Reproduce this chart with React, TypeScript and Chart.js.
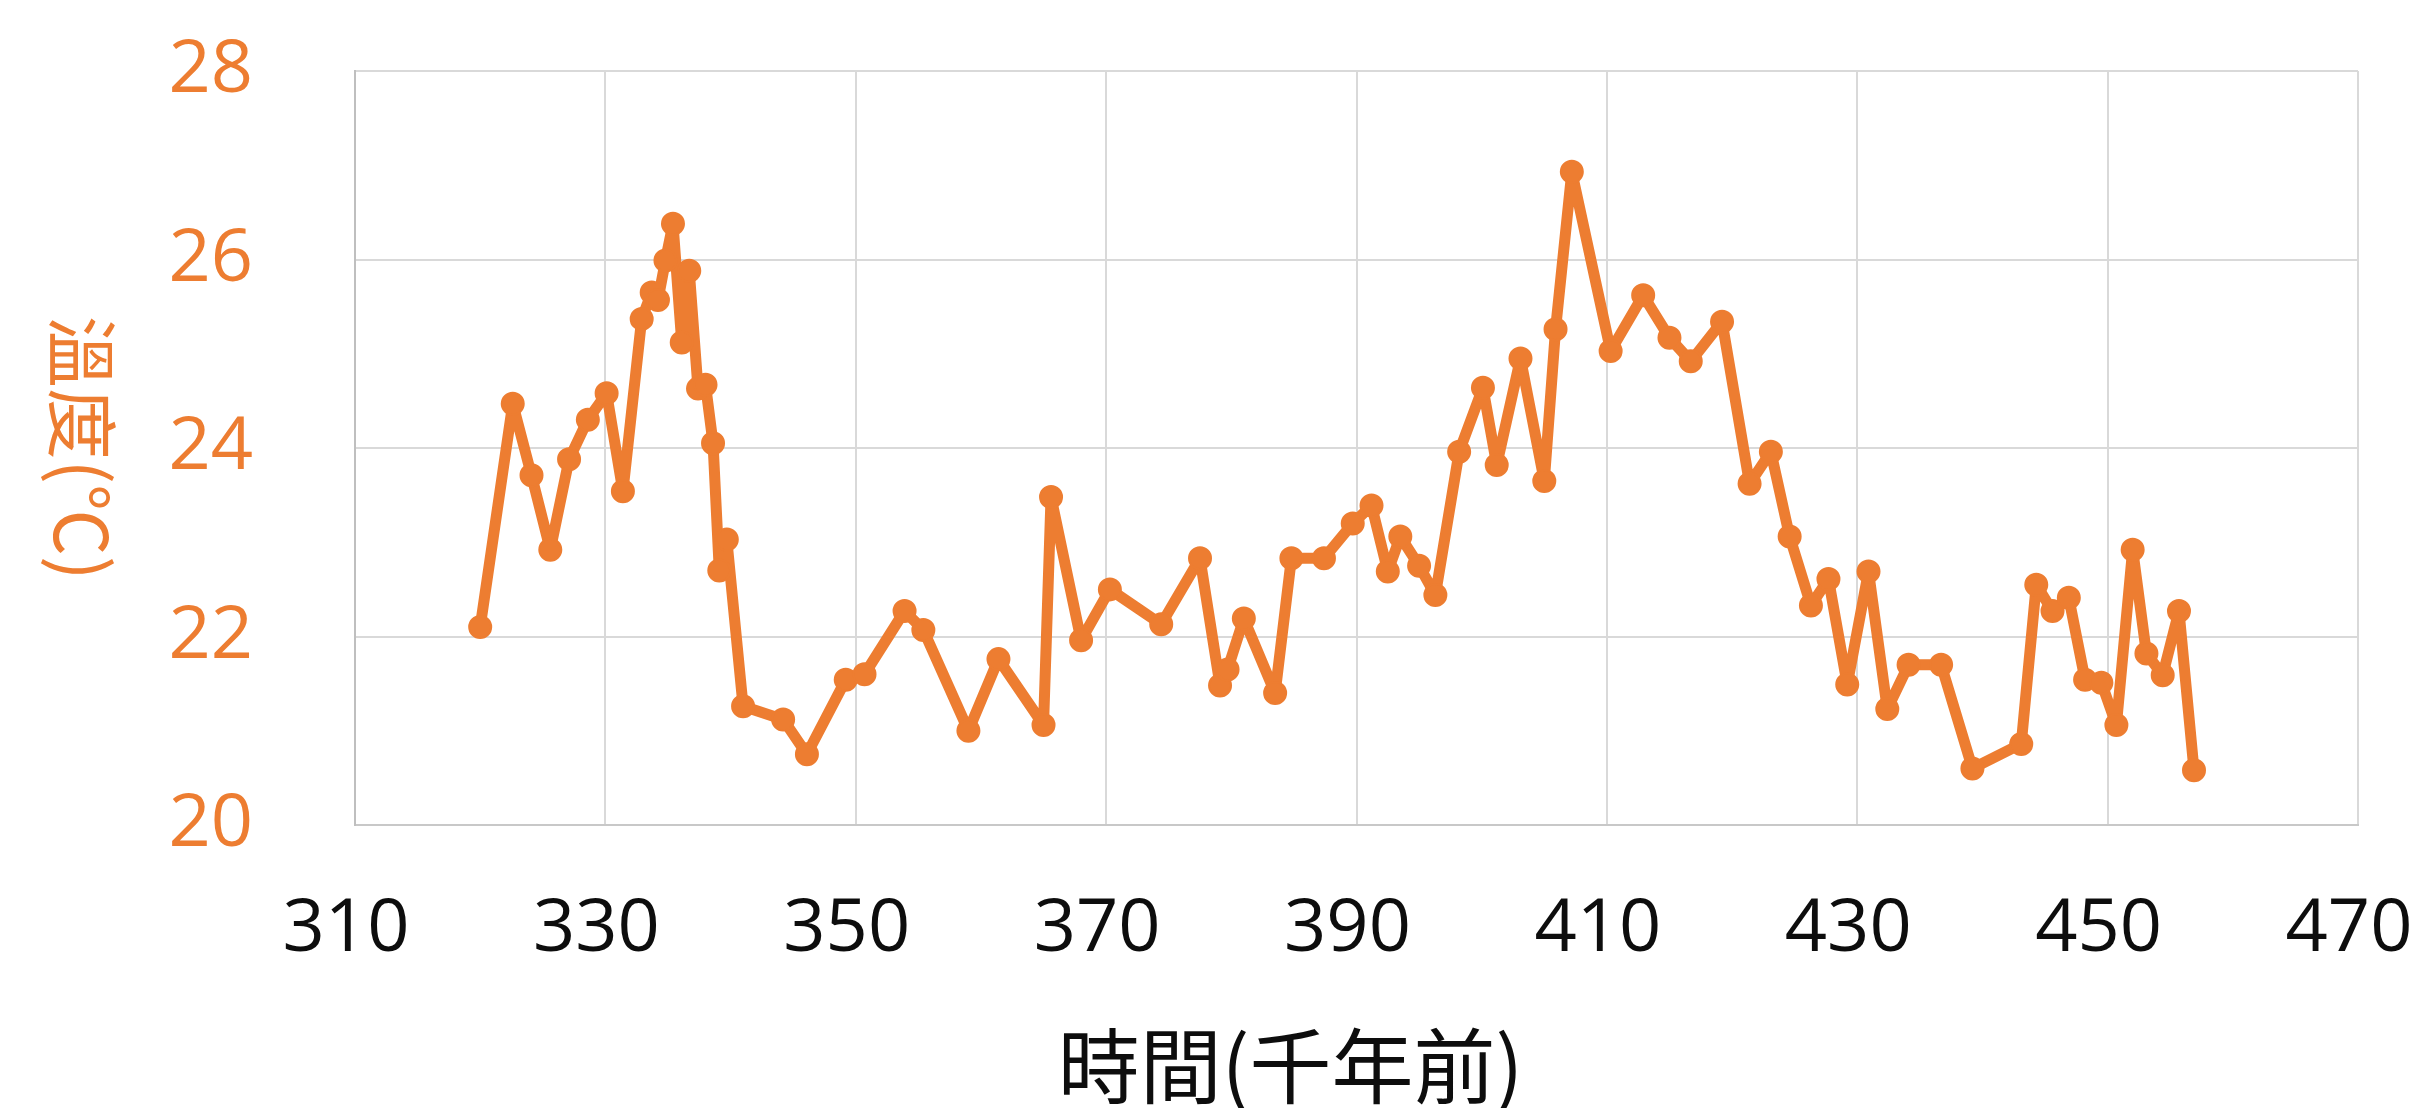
import React, { useEffect, useRef } from "react";
import { Chart, registerables } from "chart.js";

Chart.register(...registerables);

// 時間 (千年前)
const timeKyr: number[] = [
  320.0, 322.6, 324.1, 325.6, 327.1, 328.6, 330.1, 331.4, 332.9, 333.7,
  334.2, 334.8, 335.4, 336.1, 336.7, 337.4, 338.0, 338.6, 339.1, 339.7,
  341.0, 344.2, 346.1, 349.2, 350.7, 353.9, 355.4, 359.0, 361.4, 365.0,
  365.6, 368.0, 370.3, 374.4, 377.5, 379.1, 379.7, 381.0, 383.5, 384.8,
  387.4, 389.7, 391.2, 392.5, 393.5, 395.0, 396.3, 398.2, 400.1, 401.2,
  403.1, 405.0, 405.9, 407.2, 410.3, 412.9, 415.0, 416.7, 419.2, 421.4,
  423.1, 424.6, 426.3, 427.7, 429.2, 430.9, 432.4, 434.1, 436.7, 439.2,
  443.1, 444.3, 445.6, 446.9, 448.2, 449.5, 450.7, 452.0, 453.1, 454.4,
  455.7, 456.9,
];

// 溫度 (℃)
const tempC: number[] = [
  22.10, 24.47, 23.71, 22.92, 23.88, 24.30, 24.58, 23.54, 25.37, 25.65,
  25.57, 25.99, 26.38, 25.12, 25.88, 24.63, 24.67, 24.05, 22.70, 23.03,
  21.26, 21.12, 20.75, 21.54, 21.60, 22.27, 22.07, 21.00, 21.76, 21.06,
  23.48, 21.96, 22.50, 22.13, 22.83, 21.48, 21.65, 22.19, 21.40, 22.83,
  22.83, 23.20, 23.39, 22.69, 23.06, 22.75, 22.44, 23.96, 24.64, 23.82,
  24.95, 23.65, 25.26, 26.93, 25.03, 25.62, 25.17, 24.92, 25.34, 23.62,
  23.96, 23.06, 22.33, 22.61, 21.49, 22.69, 21.23, 21.70, 21.70, 20.60,
  20.86, 22.55, 22.27, 22.41, 21.54, 21.51, 21.06, 22.92, 21.82, 21.59,
  22.27, 20.58,
];

const xTickValues: number[] = [310, 330, 350, 370, 390, 410, 430, 450, 470];
const yTickValues: number[] = [20, 22, 24, 26, 28];

const xTitle = "時間(千年前)";
const yTitle = "溫度(℃)";

const ORANGE = "#ED7D31";
const TEXT_DARK = "#0d0d0d";
const GRID = "#d9d9d9";

const titlePlugin = {
  id: "axisTitlesPlugin",
  afterDraw(chart: any) {
    const { ctx, chartArea } = chart;
    ctx.save();
    // x title
    ctx.fillStyle = TEXT_DARK;
    ctx.font = '82px "Noto Sans CJK TC"';
    ctx.textAlign = "center";
    ctx.textBaseline = "middle";
    ctx.fillText(xTitle, (chartArea.left + chartArea.right) / 2 - 66, chartArea.bottom + 241);
    // y title, rotated clockwise
    ctx.translate(82, (chartArea.top + chartArea.bottom) / 2);
    ctx.rotate(Math.PI / 2);
    ctx.fillStyle = ORANGE;
    ctx.font = '72px "Noto Sans CJK TC"';
    ctx.fillText(yTitle, 0, 0);
    ctx.restore();
  },
};

const zeroPad = (scale: any) => {
  scale.paddingTop = 0;
  scale.paddingBottom = 0;
  scale.paddingLeft = 0;
  scale.paddingRight = 0;
};

export default function App() {
  const canvasRef = useRef<HTMLCanvasElement | null>(null);

  useEffect(() => {
    const canvas = canvasRef.current;
    if (!canvas) return;
    const points = timeKyr.map((t, i) => ({ x: t, y: tempC[i] }));
    const chart = new Chart(canvas, {
      type: "scatter",
      data: {
        datasets: [
          {
            data: points,
            showLine: true,
            borderColor: ORANGE,
            backgroundColor: ORANGE,
            borderWidth: 11,
            borderJoinStyle: "round",
            borderCapStyle: "round",
            pointRadius: 11,
            pointBorderWidth: 2,
            pointBorderColor: ORANGE,
            pointBackgroundColor: ORANGE,
            tension: 0,
          },
        ],
      },
      options: {
        animation: false,
        responsive: false,
        maintainAspectRatio: false,
        layout: { padding: { left: 0, top: 71, right: 65, bottom: 0 } },
        plugins: {
          legend: { display: false },
          tooltip: { enabled: false },
          title: { display: false },
        },
        scales: {
          x: {
            type: "linear",
            min: 310,
            max: 470,
            afterBuildTicks: (scale: any) => {
              scale.ticks = xTickValues.map((v) => ({ value: v }));
            },
            afterFit: (scale: any) => {
              scale.height = 283;
              zeroPad(scale);
            },
            ticks: {
              color: TEXT_DARK,
              font: { family: '"Open Sans"', size: 74 },
              padding: 61,
              labelOffset: -9,
              maxRotation: 0,
              autoSkip: false,
            },
            grid: { color: GRID, lineWidth: 2, drawTicks: false },
            border: { color: "#c8c8c8", width: 2 },
          },
          y: {
            type: "linear",
            min: 20,
            max: 28,
            afterBuildTicks: (scale: any) => {
              scale.ticks = yTickValues.map((v) => ({ value: v }));
            },
            afterFit: (scale: any) => {
              scale.width = 355;
              zeroPad(scale);
            },
            ticks: {
              color: ORANGE,
              font: { family: '"Open Sans"', size: 74 },
              padding: 102,
              autoSkip: false,
            },
            grid: { color: GRID, lineWidth: 2, drawTicks: false },
            border: { color: "#bfbfbf", width: 2 },
          },
        },
      },
      plugins: [titlePlugin],
    });
    return () => chart.destroy();
  }, []);

  return (
    <div style={{ position: "fixed", left: 0, top: 0, width: 2423, height: 1108, background: "#fff" }}>
      <canvas ref={canvasRef} width={2423} height={1108} style={{ width: 2423, height: 1108, display: "block" }} />
    </div>
  );
}
